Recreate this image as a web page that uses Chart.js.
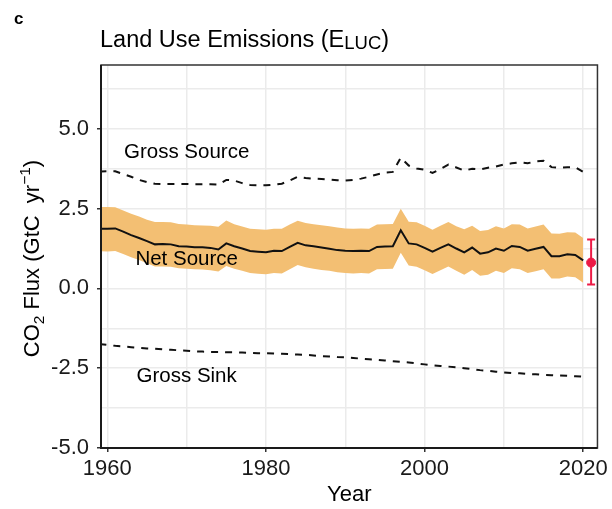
<!DOCTYPE html>
<html>
<head>
<meta charset="utf-8">
<script src="https://cdn.jsdelivr.net/npm/chart.js@4.4.1/dist/chart.umd.min.js"></script>
<style>
  html, body { margin: 0; padding: 0; background: #fff; }
</style>
</head>
<body>
<canvas id="myChart" width="612" height="509"></canvas>
<script>
// ***** values (GtC / yr) *****
var years = [1959, 1960, 1961, 1962, 1963, 1964, 1965, 1966, 1967, 1968,
             1969, 1970, 1971, 1972, 1973, 1974, 1975, 1976, 1977, 1978,
             1979, 1980, 1981, 1982, 1983, 1984, 1985, 1986, 1987, 1988,
             1989, 1990, 1991, 1992, 1993, 1994, 1995, 1996, 1997, 1998,
             1999, 2000, 2001, 2002, 2003, 2004, 2005, 2006, 2007, 2008,
             2009, 2010, 2011, 2012, 2013, 2014, 2015, 2016, 2017, 2018,
             2019, 2020];

var netSource = [1.87, 1.87, 1.88, 1.78, 1.67, 1.58, 1.48, 1.38, 1.39, 1.38,
                 1.32, 1.31, 1.29, 1.29, 1.27, 1.22, 1.41, 1.32, 1.25, 1.17,
                 1.15, 1.13, 1.18, 1.17, 1.30, 1.43, 1.35, 1.32, 1.28, 1.24,
                 1.20, 1.18, 1.17, 1.18, 1.17, 1.30, 1.31, 1.32, 1.82, 1.41,
                 1.38, 1.27, 1.15, 1.27, 1.38, 1.25, 1.13, 1.28, 1.09, 1.13,
                 1.25, 1.18, 1.33, 1.30, 1.18, 1.24, 1.30, 1.01, 1.01, 1.07,
                 1.05, 0.88];

var bandUpper = [2.55, 2.55, 2.54, 2.44, 2.34, 2.25, 2.15, 2.08, 2.08, 2.07,
                 2.02, 2.00, 1.98, 1.97, 1.96, 1.93, 2.13, 2.01, 1.94, 1.87,
                 1.85, 1.84, 1.87, 1.87, 2.00, 2.12, 2.05, 2.01, 1.98, 1.95,
                 1.91, 1.88, 1.87, 1.88, 1.87, 2.00, 2.01, 2.02, 2.50, 2.09,
                 2.07, 1.96, 1.84, 1.96, 2.08, 1.95, 1.85, 1.96, 1.80, 1.83,
                 1.95, 1.88, 2.01, 2.00, 1.88, 1.94, 2.00, 1.72, 1.71, 1.76,
                 1.75, 1.58];

var bandLower = [1.17, 1.16, 1.17, 1.08, 0.98, 0.89, 0.79, 0.69, 0.69, 0.68,
                 0.63, 0.62, 0.60, 0.59, 0.57, 0.53, 0.70, 0.62, 0.55, 0.48,
                 0.46, 0.44, 0.48, 0.47, 0.60, 0.73, 0.66, 0.62, 0.58, 0.55,
                 0.51, 0.48, 0.47, 0.48, 0.47, 0.60, 0.61, 0.62, 1.12, 0.72,
                 0.68, 0.57, 0.45, 0.57, 0.69, 0.55, 0.43, 0.58, 0.40, 0.43,
                 0.55, 0.48, 0.63, 0.60, 0.48, 0.54, 0.60, 0.31, 0.31, 0.37,
                 0.35, 0.18];

var grossSource = [3.66, 3.67, 3.67, 3.58, 3.50, 3.40, 3.33, 3.28, 3.27, 3.27,
                   3.27, 3.27, 3.26, 3.26, 3.26, 3.25, 3.40, 3.38, 3.30, 3.24,
                   3.23, 3.23, 3.25, 3.28, 3.38, 3.50, 3.46, 3.44, 3.43, 3.41,
                   3.39, 3.38, 3.40, 3.44, 3.50, 3.57, 3.63, 3.65, 4.10, 3.85,
                   3.76, 3.72, 3.62, 3.74, 3.88, 3.79, 3.69, 3.75, 3.73, 3.78,
                   3.82, 3.88, 3.92, 3.95, 3.92, 3.98, 4.00, 3.80, 3.78, 3.80,
                   3.80, 3.65];

var grossSink = [-1.74, -1.77, -1.80, -1.82, -1.84, -1.86, -1.88, -1.89, -1.91, -1.92,
                 -1.94, -1.95, -1.97, -1.98, -1.99, -1.99, -2.00, -2.00, -2.01, -2.02,
                 -2.03, -2.03, -2.04, -2.05, -2.06, -2.07, -2.08, -2.10, -2.12, -2.13,
                 -2.15, -2.16, -2.18, -2.20, -2.22, -2.24, -2.26, -2.28, -2.30, -2.32,
                 -2.35, -2.38, -2.41, -2.43, -2.45, -2.47, -2.50, -2.53, -2.56, -2.58,
                 -2.61, -2.63, -2.65, -2.66, -2.68, -2.69, -2.71, -2.72, -2.73, -2.74,
                 -2.75, -2.76];

// projection for the latest year (red point + error bar)
var projYear = [2021];
var projValue = [0.81];
var projLow = [0.12];
var projHigh = [1.53];

// ticks that carry a label
var xTickLabels = [1960, 1980, 2000, 2020];
var yTickLabels = [-5.0, -2.5, 0.0, 2.5, 5.0];

// curve labels
var curveNames = ['Gross Source', 'Net Source', 'Gross Sink'];
var curveNameX = [1970, 1970, 1970];
var curveNameY = [4.25, 0.9, -2.76];

var FONT = '"Liberation Sans", Arial, Helvetica, sans-serif';

function pts(vals) {
    return years.map(function (y, i) { return { x: y, y: vals[i] }; });
}
function isLabelled(list, v) {
    return list.some(function (t) { return Math.abs(t - v) < 1e-6; });
}

// ***** draws text with sub/superscripts *****
function richWidth(c, parts) {
    var w = 0;
    parts.forEach(function (p) {
        c.font = p.size + 'px ' + FONT;
        w += c.measureText(p.t).width;
    });
    return w;
}
function richText(c, parts, x, y) {
    parts.forEach(function (p) {
        c.font = p.size + 'px ' + FONT;
        c.fillText(p.t, x, y + (p.dy || 0));
        x += c.measureText(p.t).width;
    });
}

var decor = {
    id: 'decor',
    afterDraw: function (chart) {
        var c = chart.ctx, a = chart.chartArea;
        var xs = chart.scales.x, ys = chart.scales.y;
        c.save();

        // panel border
        c.strokeStyle = '#333333';
        c.lineWidth = 1.5;
        c.strokeRect(a.left, a.top, a.right - a.left, a.bottom - a.top);
        c.strokeStyle = '#1a1a1a';
        c.lineWidth = 2;
        c.beginPath();
        c.moveTo(a.left, a.top);
        c.lineTo(a.left, a.bottom);
        c.lineTo(a.right, a.bottom);
        c.stroke();

        c.fillStyle = '#000';
        c.textBaseline = 'middle';
        c.textAlign = 'center';
        c.font = '20.5px ' + FONT;
        for (var i = 0; i < curveNames.length; i++) {
            c.fillText(curveNames[i], xs.getPixelForValue(curveNameX[i]), ys.getPixelForValue(curveNameY[i]));
        }

        // panel letter
        c.textAlign = 'left';
        c.textBaseline = 'alphabetic';
        c.font = 'bold 17px ' + FONT;
        c.fillText('c', 14, 24);

        // title
        richText(c, [
            { t: 'Land Use Emissions (E', size: 23.5 },
            { t: 'LUC', size: 18.5, dy: 2 },
            { t: ')', size: 23.5 }
        ], 100, 47);

        // x title
        c.textAlign = 'center';
        c.font = '22px ' + FONT;
        c.fillText('Year', (a.left + a.right) / 2, 501);

        // y title
        var yParts = [
            { t: 'CO', size: 22 },
            { t: '2', size: 15.5, dy: 5 },
            { t: ' Flux (GtC  yr', size: 22 },
            { t: '\u22121', size: 15.5, dy: -9 },
            { t: ')', size: 22 }
        ];
        c.textAlign = 'left';
        c.translate(39, (a.top + a.bottom) / 2 + 2);
        c.rotate(-Math.PI / 2);
        richText(c, yParts, -richWidth(c, yParts) / 2, 0);
        c.restore();
    }
};

var ctx = document.getElementById('myChart').getContext('2d');
var chart = new Chart(ctx, {
    type: 'line',
    data: {
        datasets: [
            {   // uncertainty band, lower edge
                data: pts(bandLower),
                borderWidth: 0,
                pointRadius: 0,
                fill: false,
                order: 10
            },
            {   // uncertainty band, upper edge filled down to lower edge
                data: pts(bandUpper),
                borderWidth: 0,
                pointRadius: 0,
                backgroundColor: '#f3bf73',
                fill: '-1',
                order: 9
            },
            {
                data: pts(netSource),
                borderColor: '#111111',
                borderWidth: 2,
                pointRadius: 0,
                fill: false,
                order: 3
            },
            {
                data: pts(grossSource),
                borderColor: '#111111',
                borderWidth: 2,
                borderDash: [7, 7],
                pointRadius: 0,
                fill: false,
                order: 3
            },
            {
                data: pts(grossSink),
                borderColor: '#111111',
                borderWidth: 2,
                borderDash: [7, 7],
                pointRadius: 0,
                fill: false,
                order: 3
            },
            {   // error bar with caps
                data: [{ x: projYear[0], y: projLow[0] }, { x: projYear[0], y: projHigh[0] }],
                borderColor: '#ec1a45',
                borderWidth: 2,
                pointStyle: 'line',
                pointRadius: 4,
                pointBorderWidth: 2,
                pointBorderColor: '#ec1a45',
                fill: false,
                order: 2
            },
            {
                data: projYear.map(function (y, i) { return { x: y, y: projValue[i] }; }),
                showLine: false,
                pointRadius: 4.5,
                pointBackgroundColor: '#ec1a45',
                pointBorderColor: '#ec1a45',
                order: 1
            }
        ]
    },
    options: {
        responsive: false,
        devicePixelRatio: 1,
        animation: false,
        layout: { padding: { top: 65, right: 12, left: 0, bottom: 0 } },
        elements: { line: { tension: 0 } },
        plugins: {
            legend: { display: false },
            tooltip: { enabled: false }
        },
        scales: {
            x: {
                type: 'linear',
                min: 1959.2,
                max: 2021.8,
                afterFit: function (s) { s.height = 61; },
                border: { display: false },
                grid: {
                    color: '#ebebeb',
                    lineWidth: 1.5,
                    tickLength: 4,
                    tickWidth: 1.5,
                    tickColor: function (c) { return isLabelled(xTickLabels, c.tick.value) ? '#333333' : 'rgba(0,0,0,0)'; }
                },
                ticks: {
                    stepSize: 10,
                    includeBounds: false,
                    autoSkip: false,
                    maxRotation: 0,
                    padding: 4,
                    color: '#1a1a1a',
                    font: { family: FONT, size: 22 },
                    callback: function (v) { return isLabelled(xTickLabels, v) ? String(v) : ''; }
                }
            },
            y: {
                min: -5,
                max: 7,
                afterFit: function (s) { s.width = 101; },
                border: { display: false },
                grid: {
                    color: '#ebebeb',
                    lineWidth: 1.5,
                    tickLength: 4,
                    tickWidth: 1.5,
                    tickColor: function (c) { return isLabelled(yTickLabels, c.tick.value) ? '#333333' : 'rgba(0,0,0,0)'; }
                },
                ticks: {
                    stepSize: 1.25,
                    includeBounds: false,
                    autoSkip: false,
                    padding: 8,
                    color: '#1a1a1a',
                    font: { family: FONT, size: 22 },
                    callback: function (v) { return isLabelled(yTickLabels, v) ? v.toFixed(1) : ''; }
                }
            }
        }
    },
    plugins: [decor]
});
</script>
</body>
</html>
